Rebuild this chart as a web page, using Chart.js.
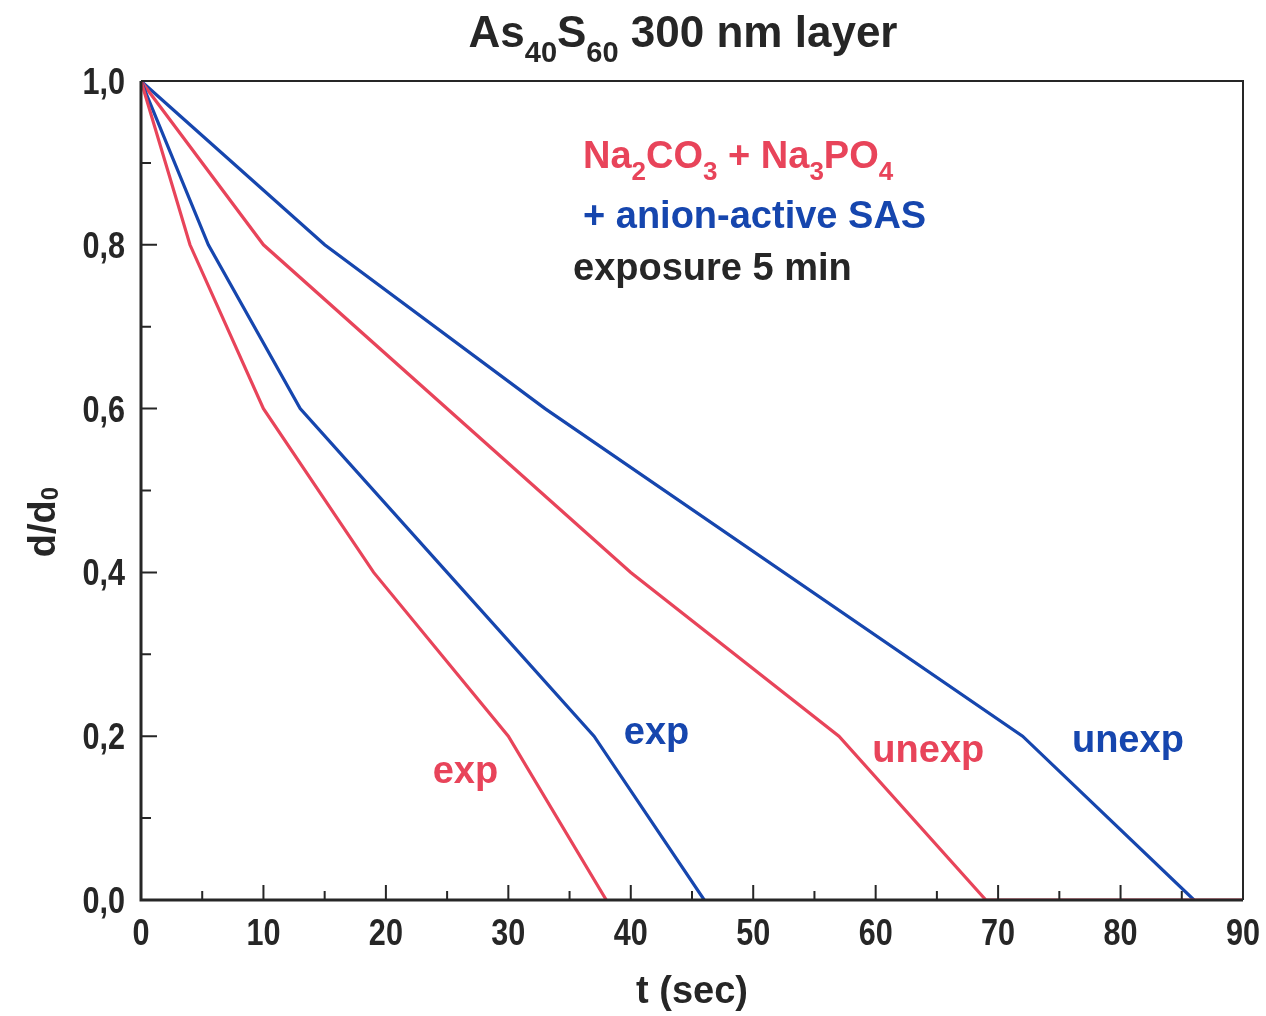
<!DOCTYPE html>
<html>
<head>
<meta charset="utf-8">
<title>As40S60 300 nm layer</title>
<script src="https://cdn.jsdelivr.net/npm/chart.js@4.4.1/dist/chart.umd.min.js"></script>
<style>
  html, body { margin: 0; padding: 0; background: #ffffff; }
  #wrap { width: 1266px; height: 1016px; position: relative; }
</style>
</head>
<body>
<div id="wrap"><canvas id="c" width="1266" height="1016"></canvas></div>
<script>
// Dissolution curves: relative thickness d/d0 versus etching time t (s)
const expRedT    = [0, 4, 10, 19, 30, 38];
const expRedD    = [1.0, 0.8, 0.6, 0.4, 0.2, 0.0];
const expBlueT   = [0, 5.5, 13, 25, 37, 46];
const expBlueD   = [1.0, 0.8, 0.6, 0.4, 0.2, 0.0];
const unexpRedT  = [0, 10, 40, 57, 69, 90];
const unexpRedD  = [1.0, 0.8, 0.4, 0.2, 0.0, 0.0];
const unexpBlueT = [0, 15, 33, 72, 86];
const unexpBlueD = [1.0, 0.8, 0.6, 0.2, 0.0];

// Axis tick labels
const xTickValues = [0, 10, 20, 30, 40, 50, 60, 70, 80, 90];
const xTickLabels = ['0', '10', '20', '30', '40', '50', '60', '70', '80', '90'];
const yTickValues = [0, 0.2, 0.4, 0.6, 0.8, 1.0];
const yTickLabels = ['0,0', '0,2', '0,4', '0,6', '0,8', '1,0'];

const RED = '#e8445a';
const BLUE = '#1646ae';
const INK = '#262626';
const FONT = '"Liberation Sans", Arial, Helvetica, sans-serif';

function toPoints(xs, ys) {
  return xs.map((x, i) => ({ x: x, y: ys[i] }));
}

function series(label, xs, ys, color) {
  return {
    label: label,
    data: toPoints(xs, ys),
    borderColor: color,
    backgroundColor: color,
    borderWidth: 3.2,
    pointRadius: 0,
    tension: 0,
    fill: false
  };
}

// Text with subscripts: parts = [[text, isSub], ...]
function richWidth(ctx, parts, size, subSize) {
  let w = 0;
  for (const [t, sub] of parts) {
    ctx.font = 'bold ' + (sub ? subSize : size) + 'px ' + FONT;
    w += ctx.measureText(t).width;
  }
  return w;
}
function drawRich(ctx, parts, x, y, size, subSize, subDrop, color, align) {
  const w = richWidth(ctx, parts, size, subSize);
  let cx = align === 'center' ? x - w / 2 : x;
  ctx.fillStyle = color;
  ctx.textBaseline = 'alphabetic';
  ctx.textAlign = 'left';
  for (const [t, sub] of parts) {
    ctx.font = 'bold ' + (sub ? subSize : size) + 'px ' + FONT;
    ctx.fillText(t, cx, sub ? y + subDrop : y);
    cx += ctx.measureText(t).width;
  }
}

// Condensed tick label: regular bold face squeezed horizontally
function narrowText(ctx, text, x, y, align) {
  ctx.save();
  ctx.translate(x, y);
  ctx.scale(0.85, 1);
  ctx.font = 'bold 36px ' + FONT;
  ctx.fillStyle = INK;
  ctx.textAlign = align;
  ctx.textBaseline = 'alphabetic';
  ctx.fillText(text, 0, 0);
  ctx.restore();
}

const frame = {
  id: 'frame',
  afterDraw(chart) {
    const ctx = chart.ctx;
    const xs = chart.scales.x, ys = chart.scales.y;
    const a = chart.chartArea;
    ctx.save();

    // plot box
    ctx.strokeStyle = INK;
    ctx.lineWidth = 2;
    ctx.beginPath();
    ctx.moveTo(a.left, a.top); ctx.lineTo(a.right, a.top); ctx.lineTo(a.right, a.bottom);
    ctx.stroke();
    ctx.lineWidth = 3;
    ctx.beginPath();
    ctx.moveTo(a.left, a.top); ctx.lineTo(a.left, a.bottom); ctx.lineTo(a.right, a.bottom);
    ctx.stroke();

    // inward ticks
    ctx.lineWidth = 2;
    ctx.beginPath();
    for (let v = 0; v <= 90; v += 5) {
      const px = xs.getPixelForValue(v);
      const len = v % 10 === 0 ? 15 : 9;
      ctx.moveTo(px, a.bottom); ctx.lineTo(px, a.bottom - len);
    }
    for (let i = 0; i <= 10; i++) {
      const py = ys.getPixelForValue(i / 10);
      const len = i % 2 === 0 ? 16 : 10;
      ctx.moveTo(a.left, py); ctx.lineTo(a.left + len, py);
    }
    ctx.stroke();

    // tick labels from the scales' own tick positions
    xs.ticks.forEach((t) => {
      const i = xTickValues.indexOf(t.value);
      if (i >= 0) narrowText(ctx, xTickLabels[i], xs.getPixelForValue(t.value), a.bottom + 45, 'center');
    });
    ys.ticks.forEach((t) => {
      const i = yTickValues.findIndex(v => Math.abs(v - t.value) < 1e-9);
      if (i >= 0) narrowText(ctx, yTickLabels[i], a.left - 16, ys.getPixelForValue(t.value) + 13, 'right');
    });

    // title
    drawRich(ctx, [['As', false], ['40', true], ['S', false], ['60', true], [' 300 nm layer', false]],
      683, 47, 44, 29, 15, INK, 'center');

    // axis titles
    ctx.font = 'bold 38px ' + FONT;
    ctx.fillStyle = INK;
    ctx.textAlign = 'center';
    ctx.textBaseline = 'alphabetic';
    ctx.fillText('t (sec)', 692, 1003);

    ctx.save();
    ctx.translate(55, 522);
    ctx.rotate(-Math.PI / 2);
    drawRich(ctx, [['d/d', false], ['0', true]], 0, 0, 38, 24, 3, INK, 'center');
    ctx.restore();

    // solution / exposure note
    drawRich(ctx, [['Na', false], ['2', true], ['CO', false], ['3', true], [' + Na', false], ['3', true], ['PO', false], ['4', true]],
      583, 168, 38, 26, 12, RED, 'left');
    drawRich(ctx, [['+ anion-active SAS', false]], 583, 228, 38, 26, 0, BLUE, 'left');
    drawRich(ctx, [['exposure 5 min', false]], 573, 280, 38, 26, 0, INK, 'left');

    // curve labels (placed in data units)
    const tags = [
      ['exp', 26.5, 0.156, RED],
      ['exp', 42.1, 0.203, BLUE],
      ['unexp', 64.3, 0.181, RED],
      ['unexp', 80.6, 0.193, BLUE]
    ];
    ctx.font = 'bold 38px ' + FONT;
    ctx.textAlign = 'center';
    ctx.textBaseline = 'middle';
    for (const [t, x, y, c] of tags) {
      ctx.fillStyle = c;
      ctx.fillText(t, xs.getPixelForValue(x), ys.getPixelForValue(y));
    }
    ctx.restore();
  }
};

const whiteBg = {
  id: 'whiteBg',
  beforeDraw(chart) {
    const ctx = chart.ctx;
    ctx.save();
    ctx.fillStyle = '#ffffff';
    ctx.fillRect(0, 0, chart.width, chart.height);
    ctx.restore();
  }
};

new Chart(document.getElementById('c'), {
  type: 'line',
  data: {
    datasets: [
      series('exp (Na2CO3 + Na3PO4)', expRedT, expRedD, RED),
      series('exp (+ anion-active SAS)', expBlueT, expBlueD, BLUE),
      series('unexp (Na2CO3 + Na3PO4)', unexpRedT, unexpRedD, RED),
      series('unexp (+ anion-active SAS)', unexpBlueT, unexpBlueD, BLUE)
    ]
  },
  options: {
    responsive: false,
    animation: false,
    events: [],
    layout: { padding: { top: 81, right: 23, left: 0, bottom: 0 } },
    plugins: { legend: { display: false }, tooltip: { enabled: false }, title: { display: false } },
    scales: {
      x: {
        type: 'linear',
        min: 0, max: 90,
        afterBuildTicks(scale) { scale.ticks = xTickValues.map(v => ({ value: v })); },
        afterFit(scale) { scale.height = 116; scale.paddingLeft = 0; scale.paddingRight = 0; },
        ticks: { display: false },
        grid: { display: false, drawTicks: false },
        border: { display: false }
      },
      y: {
        type: 'linear',
        min: 0, max: 1,
        afterBuildTicks(scale) { scale.ticks = yTickValues.map(v => ({ value: v })); },
        afterFit(scale) { scale.width = 141; scale.paddingTop = 0; scale.paddingBottom = 0; },
        ticks: { display: false },
        grid: { display: false, drawTicks: false },
        border: { display: false }
      }
    }
  },
  plugins: [whiteBg, frame]
});
</script>
</body>
</html>
